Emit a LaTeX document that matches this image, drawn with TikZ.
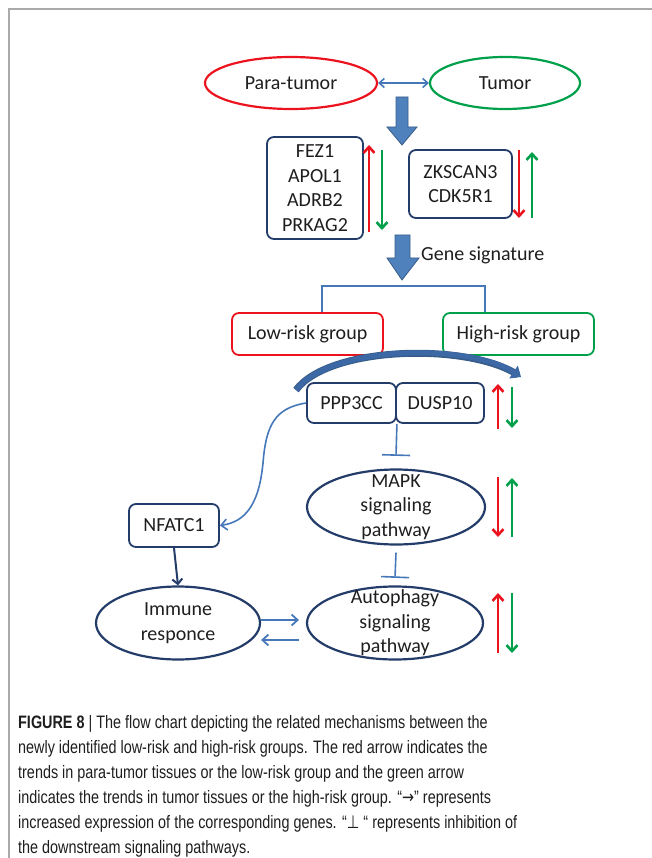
\documentclass[tikz,border=0pt]{standalone}
\usepackage{fontspec}
\setmainfont{Carlito}
\newfontfamily\capfont[FakeStretch=0.8]{Liberation Sans}
\newfontfamily\capsym[FakeStretch=0.8]{DejaVu Sans}
\usetikzlibrary{shapes.geometric,arrows.meta,calc}
\definecolor{navy}{RGB}{35,60,105}
\definecolor{lblue}{RGB}{70,120,185}
\definecolor{bfill}{RGB}{79,129,189}
\definecolor{bdark}{RGB}{56,93,138}
\definecolor{arcblue}{RGB}{60,105,165}
\definecolor{myred}{RGB}{235,20,30}
\definecolor{mygreen}{RGB}{0,160,75}
\definecolor{framegray}{RGB}{170,170,170}
\definecolor{ink}{RGB}{30,30,30}
\tikzset{
  txt/.style={font=\fontsize{20}{24.5}\selectfont, text=ink, align=center},
  gbox/.style={txt, draw=navy, line width=1.8pt, rounded corners=7pt, inner sep=0pt},
  ell/.style={ellipse, draw=navy, line width=2.2pt, inner sep=0pt},
  tell/.style={ellipse, txt, line width=2.2pt, inner sep=0pt},
  ind/.style={line width=2.6pt, -{Straight Barb[length=6pt,width=11pt]}},
  conn/.style={lblue, line width=1.6pt},
  bigarrow/.style={fill=bfill, draw=bdark, line width=0.8pt},
  capline/.style={anchor=base west, inner sep=0pt, text=ink, font=\capfont\fontsize{18}{20}\selectfont}
}
\begin{document}
\begin{tikzpicture}[x=1pt,y=-1pt]
\useasboundingbox (0,0) rectangle (651,858);
\draw[framegray, line width=1.2pt] (9,870) -- (9,9) -- (670,9);

% top ellipses
\node[tell, draw=myred, minimum width=172, minimum height=52] (para) at (291,83) {Para-tumor};
\node[tell, draw=mygreen, minimum width=150, minimum height=52] (tumor) at (505,83) {Tumor};
\draw[conn, {Straight Barb[length=5pt,width=9pt]}-{Straight Barb[length=5pt,width=9pt]}] (para) -- (tumor);

% big arrow 1
\fill[bigarrow] (396,97) -- (408,97) -- (408,127) -- (417,127) -- (402,145) -- (387,127) -- (396,127) -- cycle;

% gene boxes
\node[gbox, minimum width=96, minimum height=102] (fez) at (315,188) {FEZ1\\APOL1\\ADRB2\\PRKAG2};
\node[gbox, minimum width=103, minimum height=68] (zk) at (460.5,184) {ZKSCAN3\\CDK5R1};
\draw[ind, myred] (369,232) -- (369,145);
\draw[ind, mygreen] (382,150) -- (382,230);
\draw[ind, myred] (519,150) -- (519,218);
\draw[ind, mygreen] (532,218) -- (532,152);

% big arrow 2
\fill[bigarrow] (395,235) -- (410,235) -- (410,258) -- (419,258) -- (402,280) -- (387,258) -- (395,258) -- cycle;
\node[txt, anchor=west, inner sep=0pt] (gs) at (421,255) {Gene signature};

% risk groups
\node[gbox, draw=myred, minimum width=151, minimum height=42] (low) at (307.5,334) {Low-risk group};
\node[gbox, draw=mygreen, minimum width=151, minimum height=42] (high) at (518.5,334) {High-risk group};
\draw[conn] ([xshift=14.5pt]low.north) -- ++(0,-26) -| ([xshift=-33.5pt]high.north);

% curved thick arrow
\draw[bdark, line width=7pt] (296,390) .. controls (330,345) and (470,343) .. (518,375);
\draw[arcblue, line width=5pt, -{Triangle[length=9pt,width=15pt]}] (296,390) .. controls (330,345) and (470,343) .. (521,377);

% PPP3CC / DUSP10
\node[gbox, minimum width=89, minimum height=40] (ppp) at (351.5,403) {PPP3CC};
\node[gbox, minimum width=88, minimum height=40] (dusp) at (440,403) {DUSP10};
\draw[ind, myred] (498,429) -- (498,384);
\draw[ind, mygreen] (512,387) -- (512,428);

% MAPK
\node[ell, minimum width=178, minimum height=75] (mapk) at (396,507) {};
\node[txt] at (mapk) {MAPK\\signaling\\pathway};
\draw[ind, myred] (498,477) -- (498,537);
\draw[ind, mygreen] (512,537) -- (512,478);
\draw[conn, -{Bar[width=28pt]}] (ppp.south east) -- ([yshift=12.5pt]mapk.north);

% Autophagy
\node[ell, minimum width=176, minimum height=73] (auto) at (395,623) {};
\node[txt] at (auto) {Autophagy\\signaling\\pathway};
\draw[ind, myred] (498,653) -- (498,593);
\draw[ind, mygreen] (512,593) -- (512,653);
\draw[conn, -{Bar[width=28pt]}] ([yshift=-7pt]mapk.south) -- ([yshift=7.5pt]auto.north);

% Immune
\node[ell, minimum width=164, minimum height=73] (imm) at (178,623) {};
\node[txt] at (imm) {Immune\\responce};

% NFATC1
\node[gbox, minimum width=90, minimum height=43] (nfat) at (174,525.5) {NFATC1};
\draw[navy, line width=2pt, -{Straight Barb[length=5pt,width=10pt]}] (nfat.south) -- (imm.north);
\draw[conn, -{Straight Barb[length=6pt,width=11pt]}] (ppp.west) .. controls (275,408) and (266,425) .. (263,463) .. controls (259,505) and (245,522) .. (nfat.east);

\draw[conn, line width=1.8pt, -{Straight Barb[length=6pt,width=11pt]}] ([yshift=3pt]imm.east) -- ([yshift=3pt,xshift=-7pt]auto.west);
\draw[conn, line width=1.8pt, -{Straight Barb[length=6pt,width=11pt]}] ([yshift=-17pt,xshift=-7pt]auto.west) -- ([yshift=-17pt]imm.east);

% caption
\node[capline] (c1) at (18,728) {\textbf{FIGURE 8} | The flow chart depicting the related mechanisms between the};
\node[capline] (c2) at (18,753) {newly identified low-risk and high-risk groups. The red arrow indicates the};
\node[capline] (c3) at (18,778) {trends in para-tumor tissues or the low-risk group and the green arrow};
\node[capline] (c4) at (18,803) {indicates the trends in tumor tissues or the high-risk group. “{\capsym →}” represents};
\node[capline] (c5) at (18,828) {increased expression of the corresponding genes. “{\capsym ⊥} “ represents inhibition of};
\node[capline] (c6) at (18,853) {the downstream signaling pathways.};
\end{tikzpicture}
\end{document}
